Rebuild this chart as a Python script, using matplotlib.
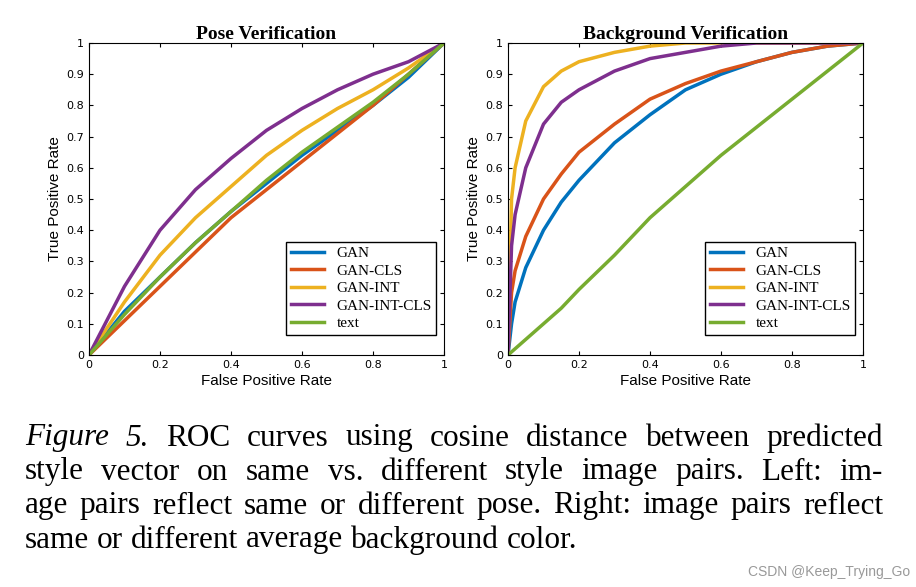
import matplotlib
matplotlib.use("Agg")
import matplotlib.pyplot as plt

labels = ["GAN", "GAN-CLS", "GAN-INT", "GAN-INT-CLS", "text"]
colors = ["#0072BD", "#D95319", "#EDB120", "#7E2F8E", "#77AC30"]

pose_x = [0, 0.1, 0.2, 0.3, 0.4, 0.5, 0.6, 0.7, 0.8, 0.9, 1.0]
pose_gan = [0, 0.14, 0.25, 0.36, 0.46, 0.55, 0.64, 0.72, 0.80, 0.89, 1.0]
pose_cls = [0, 0.11, 0.22, 0.33, 0.44, 0.53, 0.62, 0.71, 0.80, 0.90, 1.0]
pose_int = [0, 0.17, 0.32, 0.44, 0.54, 0.64, 0.72, 0.79, 0.85, 0.92, 1.0]
pose_intcls = [0, 0.22, 0.40, 0.53, 0.63, 0.72, 0.79, 0.85, 0.90, 0.94, 1.0]
pose_text = [0, 0.13, 0.25, 0.36, 0.46, 0.56, 0.65, 0.73, 0.81, 0.90, 1.0]

bg_gan_x = [0, 0.01, 0.02, 0.05, 0.1, 0.15, 0.2, 0.3, 0.4, 0.5, 0.6, 0.7, 0.8, 0.9, 1.0]
bg_gan = [0, 0.10, 0.17, 0.28, 0.40, 0.49, 0.56, 0.68, 0.77, 0.85, 0.90, 0.94, 0.97, 0.99, 1.0]
bg_cls = [0, 0.20, 0.27, 0.38, 0.50, 0.58, 0.65, 0.74, 0.82, 0.87, 0.91, 0.94, 0.97, 0.99, 1.0]
bg_int = [0, 0.50, 0.60, 0.75, 0.86, 0.91, 0.94, 0.97, 0.99, 1.0, 1.0, 1.0, 1.0, 1.0, 1.0]
bg_intcls = [0, 0.35, 0.45, 0.60, 0.74, 0.81, 0.85, 0.91, 0.95, 0.97, 0.99, 1.0, 1.0, 1.0, 1.0]
bg_text = [0, 0.01, 0.02, 0.05, 0.10, 0.15, 0.21, 0.32, 0.44, 0.54, 0.64, 0.73, 0.82, 0.91, 1.0]

fig = plt.figure(figsize=(9.16, 5.87), dpi=100)
W, H = 916, 587

def axes_px(x0, y0, x1, y1):
    return fig.add_axes([x0 / W, 1 - y1 / H, (x1 - x0) / W, (y1 - y0) / H])

panels = [
    (axes_px(89, 43, 444, 355), "Pose Verification", pose_x,
     [pose_gan, pose_cls, pose_int, pose_intcls, pose_text]),
    (axes_px(508, 43, 863, 355), "Background Verification", bg_gan_x,
     [bg_gan, bg_cls, bg_int, bg_intcls, bg_text]),
]
for ax, title, xs, ys in panels:
    for y, c, l in zip(ys, colors, labels):
        ax.plot(xs, y, color=c, lw=2.5, label=l)
    ax.set_xlim(0, 1); ax.set_ylim(0, 1)
    ax.set_xticks([0, 0.2, 0.4, 0.6, 0.8, 1]); ax.set_xticklabels(["0", "0.2", "0.4", "0.6", "0.8", "1"])
    ax.set_yticks([i / 10 for i in range(11)])
    ax.set_yticklabels(["0"] + [f"0.{i}" for i in range(1, 10)] + ["1"])
    ax.tick_params(labelsize=8, direction="in", top=True, right=True, length=3)
    ax.set_xlabel("False Positive Rate", fontsize=11, family="Liberation Sans", labelpad=3)
    ax.set_ylabel("True Positive Rate", fontsize=11, family="Liberation Sans", labelpad=3)
    ax.set_title(title, fontsize=14, fontweight="bold", family="Liberation Serif", pad=3)
    ax.legend(loc="lower right", prop={"family": "Liberation Serif", "size": 11},
              fancybox=False, edgecolor="black", framealpha=1, handlelength=2.2,
              borderpad=0.3, labelspacing=0.25, bbox_to_anchor=(1.0, 0.04))

caption = [
    "Figure 5. ROC curves using cosine distance between predicted",
    "style vector on same vs.  different style image pairs.  Left: im-",
    "age pairs reflect same or different pose. Right: image pairs reflect",
    "same or different average background color.",
]
fs = 22.5
left, right = 25 / W, 883 / W
ys_px = [438, 472, 506, 540]
fig.canvas.draw()
r = fig.canvas.get_renderer()
for li, (line, ypx) in enumerate(zip(caption, ys_px)):
    words = line.split()
    texts = []
    for wi, w in enumerate(words):
        style = "italic" if (li == 0 and wi < 2) else "normal"
        t = fig.text(0, 1 - ypx / H, w, fontsize=fs, family="Liberation Serif",
                     style=style, va="center")
        texts.append(t)
    widths = [t.get_window_extent(r).width / W for t in texts]
    if li < 3:
        gap = (right - left - sum(widths)) / (len(words) - 1)
    else:
        gap = 0.25 * fs / 72 * 100 / W
    x = left
    for t, w in zip(texts, widths):
        t.set_x(x)
        x += w + gap

fig.text(910 / W, 1 - 572 / H, "CSDN @Keep_Trying_Go", ha="right", va="center",
         fontsize=10, color="#999999", family="Liberation Sans")
fig.savefig("out.png", dpi=100)
